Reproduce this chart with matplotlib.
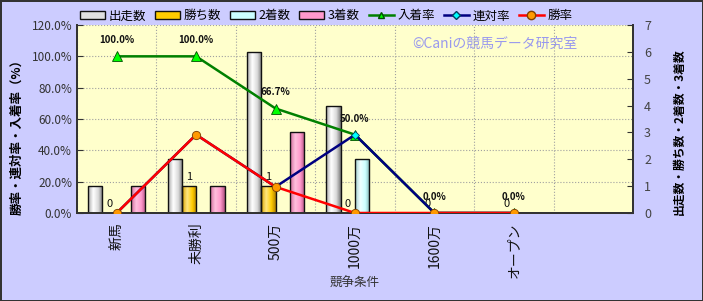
import numpy as np
import matplotlib
matplotlib.use("Agg")
from matplotlib import pyplot as plt
from matplotlib.colors import LinearSegmentedColormap
from matplotlib.patches import Patch
from matplotlib.lines import Line2D

plt.rcParams['font.family'] = ['Noto Sans CJK JP', 'DejaVu Sans']

categories = ['新馬', '未勝利', '500万', '1000万', '1600万', 'オープン', '']
runs = [1, 2, 6, 4, 0, 0, 0]
wins = [0, 1, 1, 0, 0, 0, 0]
seconds = [0, 0, 0, 2, 0, 0, 0]
thirds = [1, 1, 3, 0, 0, 0, 0]
win_rate = [0.0, 50.0, 16.7, 0.0, 0.0, 0.0]
rentai_rate = [0.0, 50.0, 16.7, 50.0, 0.0, 0.0]
place_rate = [100.0, 100.0, 66.7, 50.0, 0.0, 0.0]

fig = plt.figure(figsize=(7.03, 3.01), dpi=100)
fig.patch.set_facecolor('#CCCCFF')
fig.patch.set_edgecolor('#333333')
fig.patch.set_linewidth(2)

ax = fig.add_axes([0.1095, 0.2924, 0.7909, 0.6245])
ax.set_facecolor('#FFFFCC')
axb = ax.twinx()
axl = ax.twinx()

x = np.arange(len(categories))
w = 0.18

# bars with a cylinder-like shading
grad = np.linspace(0, 1, 60).reshape(1, -1)


def cyl(name, dark, light, base, edge):
    return LinearSegmentedColormap.from_list(
        name, [(0, dark), (0.35, light), (0.7, base), (1, edge)])


series = [
    (runs, cyl('r', '#A8A8A8', '#FFFFFF', '#DADADA', '#7A7A7A'), '#E0E0E0', '出走数'),
    (wins, cyl('w', '#D9A300', '#FFE680', '#FFCC00', '#B08000'), '#FFCC00', '勝ち数'),
    (seconds, cyl('s', '#9FCFCF', '#F0FFFF', '#CCFFFF', '#7FB0B0'), '#CCFFFF', '2着数'),
    (thirds, cyl('t', '#D06A9C', '#FFC0DD', '#FF99CC', '#B0507F'), '#FF99CC', '3着数'),
]

handles = []
for i, (vals, cmap, col, name) in enumerate(series):
    bars = axb.bar(x + (i - 1.5) * w, vals, w, facecolor='none',
                   edgecolor='#111111', linewidth=1.0, zorder=3)
    for r in bars:
        h = r.get_height()
        if h <= 0:
            continue
        x0 = r.get_x()
        im = axb.imshow(grad, extent=[x0, x0 + r.get_width(), 0, h],
                        cmap=cmap, aspect='auto', zorder=2.5)
        im.set_clip_path(r)
    handles.append(Patch(facecolor=col, edgecolor='#111111', label=name))

# labels on the win-count bars
for xi, v in zip(x[:6], wins[:6]):
    axb.annotate(str(v), (xi - 0.5 * w, v), xytext=(0, 3),
                 textcoords='offset points', ha='center', va='bottom',
                 fontsize=8, color='#111111', zorder=6)

# rate lines
xr = x[:len(place_rate)]
axl.plot(xr, place_rate, color='#008000', lw=1.8, marker='^', ms=7,
         mfc='#00FF00', mec='#005000', mew=0.6, zorder=4)
axl.plot(xr, rentai_rate, color='#000080', lw=1.8, marker='D', ms=4.5,
         mfc='#00FFFF', mec='#004060', mew=0.6, zorder=4)
axl.plot(xr, win_rate, color='#FF0000', lw=1.8, marker='o', ms=6,
         mfc='#FF9900', mec='#804000', mew=0.6, zorder=4)
handles += [
    Line2D([], [], color='#008000', lw=1.8, marker='^', ms=5, mfc='#00FF00', mec='#005000', label='入着率'),
    Line2D([], [], color='#000080', lw=1.8, marker='D', ms=4, mfc='#00FFFF', mec='#004060', label='連対率'),
    Line2D([], [], color='#FF0000', lw=1.8, marker='o', ms=6, mfc='#FF9900', mec='#804000', label='勝率'),
]

for xi, v in zip(xr, place_rate):
    axl.annotate(f'{v:.1f}%', (xi, v), xytext=(0, 8), textcoords='offset points',
                 ha='center', va='bottom', fontsize=7, fontweight='bold',
                 color='#111111', zorder=6)

# axes limits and ticks
for a in (ax, axb, axl):
    a.set_xlim(-0.5, len(categories) - 0.5)
ax.set_ylim(0, 120)
axl.set_ylim(0, 120)
axb.set_ylim(0, 7)

ax.set_yticks(np.arange(0, 121, 20))
ax.set_yticklabels([f'{v:.1f}%' for v in np.arange(0, 121, 20)],
                   fontsize=8.5, color='#333333')
ax.set_xticks(x)
ax.set_xticklabels(categories, rotation=90, fontsize=10, color='#111111')
ax.set_xticks(np.arange(-0.5, len(categories), 1), minor=True)
ax.tick_params(axis='x', which='both', length=0, pad=7)
ax.tick_params(axis='y', direction='in', length=4, color='#333333')
ax.grid(True, axis='y', which='major', color='#A0A0A0', ls=':', lw=0.8)
ax.grid(True, axis='x', which='minor', color='#A0A0A0', ls=':', lw=0.8)

axb.set_yticks(range(8))
axb.tick_params(axis='y', direction='in', length=4, labelsize=9,
                labelcolor='#444444', color='#333333', pad=8)
axl.set_yticks([])
axl.tick_params(axis='x', which='both', length=0, labelbottom=False)
axb.tick_params(axis='x', which='both', length=0, labelbottom=False)

for a in (ax, axb, axl):
    a.spines['top'].set_visible(False)
    for s in ('left', 'right', 'bottom'):
        a.spines[s].set_color('#333333')
        a.spines[s].set_linewidth(1.2)

ax.set_ylabel('勝率・連対率・入着率（%）', fontsize=9, fontweight='bold')
ax.yaxis.set_label_coords(-0.096, 0.42)
axb.set_ylabel('出走数・勝ち数・2着数・3着数', fontsize=8.5, fontweight='bold',
               rotation=90)
axb.yaxis.set_label_coords(1.071, 0.43)
fig.text(0.505, 0.058, '競争条件', ha='center', va='center', fontsize=9, color='#333333')

ax.text(0.752, 0.899, '©Caniの競馬データ研究室', transform=ax.transAxes,
        ha='center', va='center', fontsize=10, color='#9999EE', zorder=1)

fig.legend(handles=handles, loc='center', bbox_to_anchor=(0.464, 0.947),
           ncol=7, frameon=False, fontsize=9, handlelength=2.0,
           handleheight=0.5, columnspacing=0.7, handletextpad=0.3)

fig.savefig('out.png', dpi=100)
